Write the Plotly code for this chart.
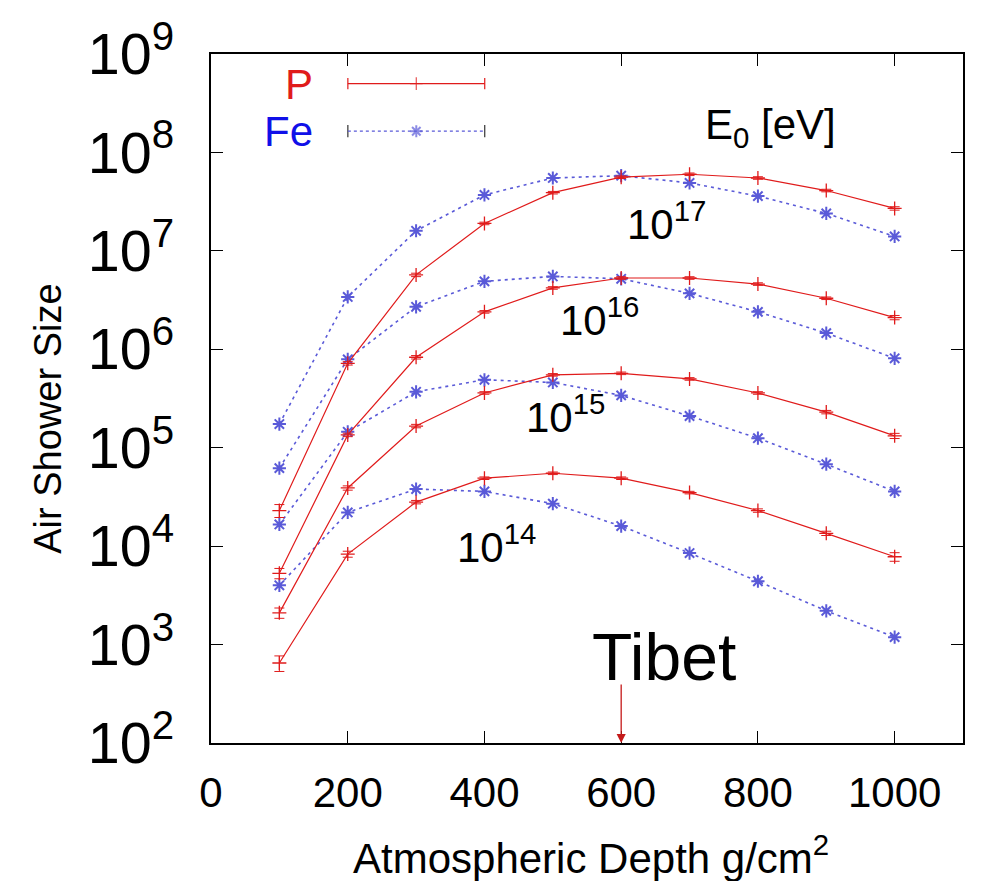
import plotly.graph_objects as go

# ---------------- data ----------------
depth = [100, 200, 300, 400, 500, 600, 700, 800, 900, 1000]

p_1e14 = [650, 8300, 2.8e4, 4.9e4, 5.5e4, 4.9e4, 3.5e4, 2.3e4, 1.35e4, 7.8e3]
fe_1e14 = [4.0e3, 2.2e4, 3.8e4, 3.6e4, 2.7e4, 1.6e4, 8.5e3, 4.4e3, 2.2e3, 1.19e3]
p_1e15 = [2.1e3, 3.9e4, 1.66e5, 3.6e5, 5.5e5, 5.7e5, 5.0e5, 3.6e5, 2.3e5, 1.32e5]
fe_1e15 = [1.66e4, 1.45e5, 3.7e5, 4.9e5, 4.6e5, 3.4e5, 2.1e5, 1.25e5, 6.8e4, 3.6e4]
p_1e16 = [5.3e3, 1.35e5, 8.3e5, 2.4e6, 4.2e6, 5.3e6, 5.3e6, 4.6e6, 3.3e6, 2.1e6]
fe_1e16 = [6.2e4, 7.9e5, 2.7e6, 4.9e6, 5.5e6, 5.2e6, 3.7e6, 2.4e6, 1.46e6, 8.1e5]
p_1e17 = [2.3e4, 7.2e5, 5.7e6, 1.9e7, 3.9e7, 5.6e7, 6.0e7, 5.5e7, 4.1e7, 2.7e7]
fe_1e17 = [1.74e5, 3.4e6, 1.6e7, 3.7e7, 5.5e7, 5.8e7, 4.9e7, 3.6e7, 2.4e7, 1.4e7]

# relative error bars on the proton curves
p_err_1e14 = [0.18, 0.07, 0.04, 0.03, 0.03, 0.03, 0.03, 0.04, 0.05, 0.10]
p_err_1e15 = [0.12, 0.05, 0.04, 0.03, 0.03, 0.03, 0.03, 0.03, 0.04, 0.06]
p_err_1e16 = [0.12, 0.04, 0.04, 0.03, 0.03, 0.03, 0.03, 0.03, 0.03, 0.05]
p_err_1e17 = [0.15, 0.04, 0.04, 0.03, 0.03, 0.03, 0.03, 0.03, 0.03, 0.04]

energy_labels = ["10<sup>14</sup>", "10<sup>15</sup>", "10<sup>16</sup>", "10<sup>17</sup>"]
x_ticks = [0, 200, 400, 600, 800, 1000]

# ---------------- styling ----------------
FONT = "Liberation Sans, Arial, sans-serif"
RED = "#e01b1b"
BLUE = "#1010e8"
FE_LINE = "#5a5ad8"

fig = go.Figure()

p_sets = [(p_1e14, p_err_1e14), (p_1e15, p_err_1e15), (p_1e16, p_err_1e16), (p_1e17, p_err_1e17)]
fe_sets = [fe_1e14, fe_1e15, fe_1e16, fe_1e17]

for fe in fe_sets:
    fig.add_trace(go.Scatter(
        x=depth, y=fe, mode="lines+markers", showlegend=False,
        line=dict(color=FE_LINE, width=1.6, dash="3px,4px"),
        marker=dict(symbol="asterisk-open", size=11, line=dict(width=2, color=BLUE)),
    ))

for p, err in p_sets:
    fig.add_trace(go.Scatter(
        x=depth, y=p, mode="lines+markers", showlegend=False,
        line=dict(color=RED, width=1.2),
        marker=dict(symbol="cross-thin", size=10, line=dict(width=1.3, color=RED)),
        error_y=dict(type="data", array=[v * e for v, e in zip(p, err)],
                     arrayminus=[v * e for v, e in zip(p, err)],
                     color=RED, thickness=1, width=5),
    ))

# legend samples drawn on an overlay axis pair spanning the plot area
fig.add_trace(go.Scatter(
    x=[0.182, 0.273, 0.364], y=[0.957, 0.957, 0.957], xaxis="x2", yaxis="y2",
    mode="lines+markers", showlegend=False, hoverinfo="skip",
    line=dict(color=RED, width=1.2),
    marker=dict(symbol="cross-thin", size=[0, 9, 0], line=dict(width=1.3, color=RED)),
    error_y=dict(type="data", array=[0.008, 0, 0.008], color=RED, thickness=1.2, width=0),
))
fig.add_trace(go.Scatter(
    x=[0.182, 0.273, 0.364], y=[0.888, 0.888, 0.888], xaxis="x2", yaxis="y2",
    mode="lines+markers", showlegend=False, hoverinfo="skip",
    line=dict(color=FE_LINE, width=1.4, dash="3px,3px"),
    marker=dict(symbol="asterisk-open", size=[0, 10, 0], line=dict(width=2, color=BLUE)),
    error_y=dict(type="data", array=[0.009, 0, 0.009], color="#333333", thickness=1.2, width=0),
))

annotations = [
    dict(text="P", xref="paper", yref="paper", x=0.138, y=0.956, xanchor="right", yanchor="middle",
         showarrow=False, font=dict(family=FONT, size=42, color=RED)),
    dict(text="Fe", xref="paper", yref="paper", x=0.138, y=0.888, xanchor="right", yanchor="middle",
         showarrow=False, font=dict(family=FONT, size=42, color=BLUE)),
    dict(text="E<sub>0</sub> [eV]", x=818, y=8.258, xanchor="center", yanchor="middle",
         showarrow=False, font=dict(family=FONT, size=42, color="black")),
    dict(text=energy_labels[3], x=667, y=7.30, showarrow=False,
         font=dict(family=FONT, size=42, color="black")),
    dict(text=energy_labels[2], x=569, y=6.33, showarrow=False,
         font=dict(family=FONT, size=42, color="black")),
    dict(text=energy_labels[1], x=518, y=5.34, showarrow=False,
         font=dict(family=FONT, size=42, color="black")),
    dict(text=energy_labels[0], x=418, y=4.02, showarrow=False,
         font=dict(family=FONT, size=42, color="black")),
    dict(text="Tibet", x=600, y=2.87, xshift=43, showarrow=False,
         font=dict(family=FONT, size=66, color="black")),
    dict(text="", x=600, y=2, ax=0, ay=-60, showarrow=True, arrowhead=2,
         arrowsize=1.4, arrowwidth=1.3, arrowcolor="#c41a1a"),
    # axis titles
    dict(text="Atmospheric Depth g/cm<sup>2</sup>", xref="paper", yref="paper",
         x=0.505, y=-0.162, xanchor="center", yanchor="middle", showarrow=False,
         font=dict(family=FONT, size=42, color="black")),
    dict(text="Air Shower Size", xref="paper", yref="paper", textangle=-90,
         x=-0.216, y=0.47, xanchor="center", yanchor="middle", showarrow=False,
         font=dict(family=FONT, size=38, color="black")),
]

axis_common = dict(showgrid=False, zeroline=False, showline=True, linecolor="black",
                   linewidth=1.5, mirror="ticks", ticks="inside", ticklen=12,
                   tickwidth=1, tickcolor="black", automargin=False)

fig.update_layout(
    width=982, height=881,
    margin=dict(l=211, r=19, t=54, b=138),
    paper_bgcolor="white", plot_bgcolor="white",
    font=dict(family=FONT, color="black"),
    annotations=annotations,
    xaxis=dict(range=[0, 1100], tickvals=x_ticks, ticktext=[str(v) for v in x_ticks],
               tickfont=dict(size=42), ticklabelstandoff=12,
               **axis_common),
    yaxis=dict(type="log", range=[2, 9], dtick=1, exponentformat="power",
               tickfont=dict(size=46), ticklabelstandoff=26,
               **axis_common),
    xaxis2=dict(overlaying="x", range=[0, 1], visible=False),
    yaxis2=dict(overlaying="y", range=[0, 1], visible=False),
)

fig.write_html("out.html", config={"displayModeBar": False},
               post_script="document.body.style.margin='0';document.body.style.overflow='hidden';")
